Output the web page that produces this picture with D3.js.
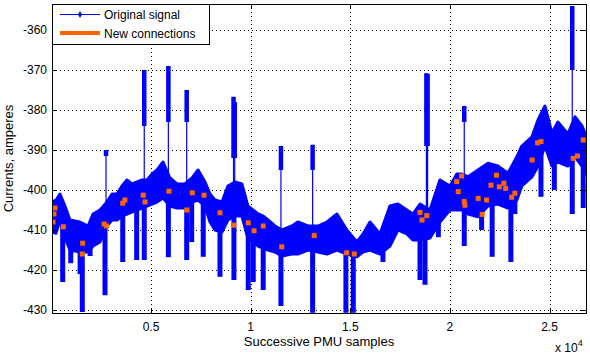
<!DOCTYPE html>
<html>
<head>
<meta charset="utf-8">
<script src="https://cdn.jsdelivr.net/npm/d3@7"></script>
<style>
	body { margin: 0; background: #fff; }
	text { font-family: 'Liberation Sans', Arial, sans-serif; font-size: 12px; fill: #000; }
	.label { font-size: 13px; }
</style>
</head>
<body>
<div id="app"></div>
<script>
'use strict'

// Envelope of the dense PMU signal (sample index, upper / lower value)
const bandSamples = [30, 230, 430, 680, 930, 1430, 1840, 2090, 2440, 2790, 3040, 3290, 3540, 3790, 4040, 4300, 4550, 4800, 5050, 5300, 5600, 5950, 6300, 6700, 7060, 7360, 7710, 7960, 8210, 8560, 8860, 9210, 9560, 9860, 10120, 10370, 10620, 10870, 11220, 11570, 12070, 12370, 12870, 13380, 13830, 14330, 14830, 15330, 15640, 15990, 16490, 16990, 17390, 17840, 18140, 18500, 19000, 19500, 20000, 20350, 20600, 20910, 21410, 21910, 22410, 22910, 23360, 23610, 24120, 24420, 24770, 25120, 25420, 25920, 26280, 26630, 26800]
const bandHigh = [-403, -402.5, -401, -404, -407.5, -408, -409, -406, -405, -403, -401, -401, -399, -397.5, -398.5, -398, -397.5, -397.5, -396, -395, -393, -397, -398.5, -398.5, -397, -395, -398, -401, -402.5, -403, -399, -398, -398.5, -404, -405, -406, -406.5, -407.5, -409, -410, -409, -408, -409, -409, -408, -406, -410, -413, -411, -408, -411, -404, -403.5, -405, -406, -403.5, -405, -397.5, -399, -396, -396, -396.7, -395, -393.3, -394, -395.8, -391.7, -389, -386.7, -382.5, -379, -385.8, -383, -386, -381.7, -384, -386]
const bandLow = [-410.5, -410.8, -407.5, -412, -415, -415.5, -415.5, -414, -413, -409, -407.5, -407.5, -406.5, -406, -405.5, -405, -404.5, -404, -403.5, -403, -402, -404, -404.5, -404.5, -403, -402.5, -404, -408, -410, -410.5, -407.5, -406.5, -406.5, -412, -413, -414, -414.5, -415, -415.5, -416.5, -416, -416, -415, -415.5, -416, -415, -416, -416.7, -415.5, -415, -416, -414, -410, -411, -412.5, -412.5, -412, -408, -405, -405, -405, -406, -406.7, -404, -403.5, -404.5, -402.5, -399, -396.7, -394, -389, -394, -393, -394, -391.7, -394, -396]

// Downward excursions (sample index, minimum value)
const dropSamples = [567, 970, 1440, 1550, 1940, 2690, 3580, 4280, 4660, 5870, 6790, 7040, 7620, 8460, 9160, 9880, 10130, 10630, 11520, 13110, 14780, 15150, 16640, 18500, 18750, 19420, 20720, 21590, 22120, 23060, 23260, 24570, 25240, 26140, 26690]
const dropMins = [-423, -418.3, -421, -430.5, -416.5, -426.3, -418, -417.5, -417.5, -416.8, -417.5, -413, -416.7, -421.7, -422.5, -425, -423, -425, -429, -430.7, -430.7, -430.7, -418, -422.5, -423.7, -411.8, -414, -410, -416.7, -418, -406, -401.7, -400, -406, -404.5]

// Upward excursions (sample index, maximum value, lower end of the dense part)
const peakSamples = [2740, 4660, 5870, 6790, 9140, 9200, 11520, 13110, 18820, 18880, 20720, 26140]
const peakMaxs = [-390, -370, -369, -375, -376.7, -378, -389, -388.7, -370.8, -371, -379, -354]
const peakDense = [-391.5, -384, -383, -383, -392, -392, -395, -395, -389, -389, -383, -370]

// New connections (sample index, value)
const newSamples = [80, 130, 180, 600, 1550, 1570, 2650, 2770, 3580, 3690, 4610, 4700, 5900, 6790, 7070, 7660, 8460, 9160, 9880, 10170, 10630, 11560, 13190, 14820, 15200, 18500, 18600, 18840, 20340, 20420, 20590, 20720, 20750, 21420, 21620, 21840, 22060, 22340, 22480, 22710, 22800, 23100, 23260, 24130, 24400, 24570, 26190, 26400, 26690]
const newValues = [-408, -406, -404.5, -409.2, -416, -413.3, -408.5, -409, -403.3, -402.5, -401.3, -403, -400.3, -405, -400.7, -401.3, -405.7, -408.8, -408.2, -410.2, -409, -414.2, -411.4, -415.7, -416, -405.6, -407.5, -406.4, -397.9, -400.4, -396.5, -402.9, -403.8, -402.1, -406.1, -402.5, -398.8, -396.3, -399.2, -398.3, -399.6, -401.8, -400.8, -392.5, -388.2, -387.9, -392.1, -391.5, -387.5]

const xTicks = [5000, 10000, 15000, 20000, 25000]
const xTickLabels = ['0.5', '1', '1.5', '2', '2.5']
const yTicks = [-430, -420, -410, -400, -390, -380, -370, -360]

const main = () => {
	const margin = { top: 4, right: 4, bottom: 43, left: 52 }
	const width = 590 - margin.left - margin.right
	const height = 356 - margin.top - margin.bottom
	const blue = '#0000ff'
	const orange = '#ff6600'

	const xScale = d3.scaleLinear()
		.domain([30, 26830])
		.range([0, width])

	const yScale = d3.scaleLinear()
		.domain([-430.75, -353.5])
		.range([height, 0])

	// band lookups, used to anchor the spikes on the envelope
	const highAt = d3.scaleLinear().domain(bandSamples).range(bandHigh)
	const midAt = d3.scaleLinear().domain(bandSamples).range(bandSamples.map((d, i) => (bandHigh[i] + bandLow[i]) / 2))

	const svg = d3.select('#app').append('svg')
		.attr('width', 590)
		.attr('height', 356)
		.style('display', 'block')
		.append('g')
			.attr('transform', `translate(${margin.left}, ${margin.top})`)

	svg.append('clipPath')
		.attr('id', 'clip')
		.append('rect')
		.attr('width', width)
		.attr('height', height)

	/*
	 * Dotted grid
	 */
	const grid = svg.append('g')
		.attr('stroke', '#000')
		.attr('stroke-dasharray', '1,3')
		.attr('shape-rendering', 'crispEdges')

	grid.selectAll('.gx')
		.data(xTicks)
		.enter().append('line')
		.attr('x1', d => Math.round(xScale(d)) + 0.5)
		.attr('x2', d => Math.round(xScale(d)) + 0.5)
		.attr('y1', 0)
		.attr('y2', height)

	grid.selectAll('.gy')
		.data(yTicks)
		.enter().append('line')
		.attr('y1', d => Math.round(yScale(d)) + 0.5)
		.attr('y2', d => Math.round(yScale(d)) + 0.5)
		.attr('x1', 0)
		.attr('x2', width)

	/*
	 * Original signal
	 */
	const plot = svg.append('g').attr('clip-path', 'url(#clip)')

	const band = bandSamples.map((s, i) => ({ s, hi: bandHigh[i], lo: bandLow[i] }))

	plot.append('path')
		.datum(band)
		.attr('fill', blue)
		.attr('stroke', blue)
		.attr('stroke-width', 3)
		.attr('stroke-linejoin', 'round')
		.attr('d', d3.area()
			.x(d => xScale(d.s))
			.y0(d => yScale(d.lo))
			.y1(d => yScale(d.hi)))

	plot.selectAll('.drop')
		.data(dropSamples.map((s, i) => ({ s, v: dropMins[i] })))
		.enter().append('line')
		.attr('x1', d => xScale(d.s))
		.attr('x2', d => xScale(d.s))
		.attr('y1', d => yScale(midAt(d.s)))
		.attr('y2', d => yScale(d.v))
		.attr('stroke', blue)
		.attr('stroke-width', 5)

	const peaks = peakSamples.map((s, i) => ({ s, v: peakMaxs[i], dense: peakDense[i] }))

	plot.selectAll('.peak')
		.data(peaks)
		.enter().append('line')
		.attr('x1', d => xScale(d.s))
		.attr('x2', d => xScale(d.s))
		.attr('y1', d => yScale(highAt(d.s)))
		.attr('y2', d => yScale(d.v))
		.attr('stroke', blue)
		.attr('stroke-width', 1.2)

	plot.selectAll('.peakTop')
		.data(peaks)
		.enter().append('line')
		.attr('x1', d => xScale(d.s))
		.attr('x2', d => xScale(d.s))
		.attr('y1', d => yScale(d.dense))
		.attr('y2', d => yScale(d.v))
		.attr('stroke', blue)
		.attr('stroke-width', 4.5)

	/*
	 * New connections
	 */
	plot.selectAll('.conn')
		.data(newSamples.map((s, i) => ({ s, v: newValues[i] })))
		.enter().append('rect')
		.attr('x', d => xScale(d.s) - 2.5)
		.attr('y', d => yScale(d.v) - 2.5)
		.attr('width', 5)
		.attr('height', 5)
		.attr('fill', orange)

	/*
	 * Axes box, inward ticks and labels
	 */
	svg.append('rect')
		.attr('x', 0.5)
		.attr('y', 0.5)
		.attr('width', width)
		.attr('height', height - 0.5)
		.attr('fill', 'none')
		.attr('stroke', '#000')
		.attr('shape-rendering', 'crispEdges')

	const ticks = svg.append('g')
		.attr('stroke', '#000')
		.attr('shape-rendering', 'crispEdges')

	xTicks.forEach(d => {
		const x = Math.round(xScale(d)) + 0.5
		ticks.append('line').attr('x1', x).attr('x2', x).attr('y1', height).attr('y2', height - 5)
		ticks.append('line').attr('x1', x).attr('x2', x).attr('y1', 0).attr('y2', 5)
	})

	yTicks.forEach(d => {
		const y = Math.round(yScale(d)) + 0.5
		ticks.append('line').attr('y1', y).attr('y2', y).attr('x1', 0).attr('x2', 5)
		ticks.append('line').attr('y1', y).attr('y2', y).attr('x1', width).attr('x2', width - 5)
	})

	svg.selectAll('.xl')
		.data(xTicks)
		.enter().append('text')
		.attr('x', d => xScale(d))
		.attr('y', height + 18)
		.attr('text-anchor', 'middle')
		.text((d, i) => xTickLabels[i])

	svg.selectAll('.yl')
		.data(yTicks)
		.enter().append('text')
		.attr('x', -5)
		.attr('y', d => yScale(d))
		.attr('dy', '0.35em')
		.attr('text-anchor', 'end')
		.text(d => d)

	svg.append('text')
		.attr('class', 'label')
		.attr('x', width / 2)
		.attr('y', height + 33)
		.attr('text-anchor', 'middle')
		.text('Successive PMU samples')

	svg.append('text')
		.attr('class', 'label')
		.attr('transform', `translate(-39, ${height / 2}) rotate(-90)`)
		.attr('text-anchor', 'middle')
		.text('Currents, amperes')

	const exp = svg.append('text')
		.attr('x', width - 31)
		.attr('y', height + 39)
		.text('x 10')
	exp.append('tspan')
		.attr('dy', -6)
		.style('font-size', '9px')
		.text('4')

	/*
	 * Legend
	 */
	const legend = svg.append('g')

	legend.append('rect')
		.attr('x', 0.5)
		.attr('y', 0.5)
		.attr('width', 157)
		.attr('height', 40)
		.attr('fill', '#fff')
		.attr('stroke', '#000')
		.attr('shape-rendering', 'crispEdges')

	legend.append('line')
		.attr('x1', 8).attr('x2', 48)
		.attr('y1', 10.5).attr('y2', 10.5)
		.attr('stroke', blue)

	legend.append('path')
		.attr('d', d3.symbol(d3.symbolDiamond, 14)())
		.attr('transform', 'translate(28, 10.5)')
		.attr('fill', blue)

	legend.append('line')
		.attr('x1', 8).attr('x2', 48)
		.attr('y1', 29).attr('y2', 29)
		.attr('stroke', orange)
		.attr('stroke-width', 4)

	legend.append('text')
		.attr('x', 52)
		.attr('y', 15)
		.text('Original signal')

	legend.append('text')
		.attr('x', 52)
		.attr('y', 34)
		.text('New connections')
}

main()
</script>
</body>
</html>
